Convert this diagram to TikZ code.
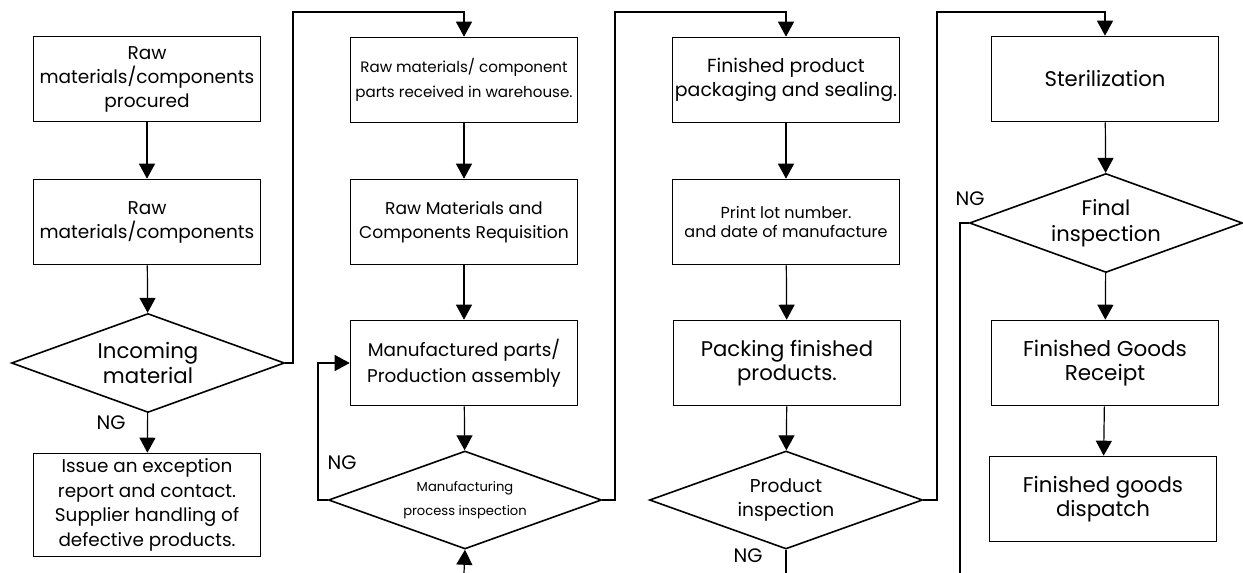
\documentclass[tikz,border=0pt]{standalone}
\usepackage{fontspec}
\setmainfont{Poppins}
\usetikzlibrary{shapes.geometric,arrows.meta}

\tikzset{
  stepbox/.style={draw,line width=1.6pt,minimum width=227pt,minimum height=85pt,inner sep=0pt,align=center},
  check/.style={draw,diamond,aspect=2.75,line width=1.6pt,minimum width=273pt,minimum height=99pt,inner sep=0pt,align=center},
  flow/.style={line width=1.2pt,-{Triangle[length=15pt,width=16pt]}},
  rail/.style={line width=1.2pt},
  ng/.style={font=\fontsize{19.5}{22}\selectfont}
}
\newcommand{\fsz}[2]{\fontsize{#1}{#2}\selectfont}

\begin{document}
\begin{tikzpicture}[x=1pt,y=1pt]
  \useasboundingbox (0,0) rectangle (1243,-573);
  % column 1
  \node[stepbox,font=\fsz{18.5}{24}] (rawproc) at (147,-79) {Raw\\materials/components\\procured};
  \node[stepbox,font=\fsz{18.5}{24}] (rawcomp) at (147,-222) {Raw\\materials/components};
  \node[check,font=\fsz{21.3}{25}] (incoming) at (148,-363) {Incoming\\material};
  \node[stepbox,minimum height=103pt,font=\fsz{18.4}{24.7}] (exception) at (147,-505)
    {Issue an exception\\report and contact.\\Supplier handling of\\defective products.};
  % column 2
  \node[stepbox,font=\fsz{15.1}{25}] (received) at (464,-80) {Raw materials/ component\\parts received in warehouse.};
  \node[stepbox,font=\fsz{17.1}{24}] (requisition) at (464,-222) {Raw Materials and\\Components Requisition};
  \node[stepbox,font=\fsz{18.4}{26}] (assembly) at (464,-363) {Manufactured parts/\\Production assembly};
  \node[check,minimum height=98pt,font=\fsz{13.1}{24}] (procinsp) at (465,-500) {Manufacturing\\process inspection};
  % column 3
  \node[stepbox,font=\fsz{18.9}{24}] (sealing) at (786,-80) {Finished product\\packaging and sealing.};
  \node[stepbox,font=\fsz{16}{19}] (lotprint) at (786,-222) {Print lot number.\\and date of manufacture};
  \node[stepbox,font=\fsz{21.2}{24}] (packing) at (787,-363) {Packing finished\\products.};
  \node[check,minimum height=98pt,font=\fsz{18.6}{24}] (prodinsp) at (786,-500) {Product\\inspection};
  % column 4
  \node[stepbox,font=\fsz{21.2}{24}] (steril) at (1105,-79) {Sterilization};
  \node[check,font=\fsz{21.1}{26}] (finalinsp) at (1106,-223) {Final\\inspection};
  \node[stepbox,font=\fsz{21.5}{24}] (fgreceipt) at (1105,-363) {Finished Goods\\Receipt};
  \node[stepbox,font=\fsz{21.3}{24}] (fgdispatch) at (1103,-499) {Finished goods\\dispatch};
  % free ends at the bottom edge
  \coordinate (feedin) at (464,-573);
  \coordinate (prodout) at (786,-573);
  \coordinate (finalout) at (960,-573);

  \draw[flow] (rawproc) -- (rawcomp);
  \draw[flow] (rawcomp) -- (incoming);
  \draw[flow] (incoming) -- (exception);
  \node[ng] at (111,-423) {NG};
  \draw[flow] (incoming.east) -| (293,-12) -| (received.north);

  \draw[flow] (received) -- (requisition);
  \draw[flow] (requisition) -- (assembly);
  \draw[flow] (assembly) -- (procinsp);
  \draw[flow] (procinsp.west) -- (318,-500) |- (assembly.west);
  \node[ng] at (342,-463) {NG};
  \draw[flow] (feedin) -- (procinsp.south);
  \draw[flow] (procinsp.east) -| (615,-12) -| (sealing.north);

  \draw[flow] (sealing) -- (lotprint);
  \draw[flow] (lotprint) -- (packing);
  \draw[flow] (packing) -- (prodinsp);
  \draw[rail] (prodinsp.south) -- (prodout);
  \node[ng] at (748,-556) {NG};
  \draw[flow] (prodinsp.east) -| (937,-12) -| (steril.north);

  \draw[flow] (steril) -- (finalinsp);
  \draw[flow] (finalinsp) -- (fgreceipt);
  \draw[flow] (fgreceipt) -- (fgdispatch);
  \draw[rail] (finalinsp.west) -- (960,-223) -- (finalout);
  \node[ng] at (970,-199) {NG};
\end{tikzpicture}
\end{document}
